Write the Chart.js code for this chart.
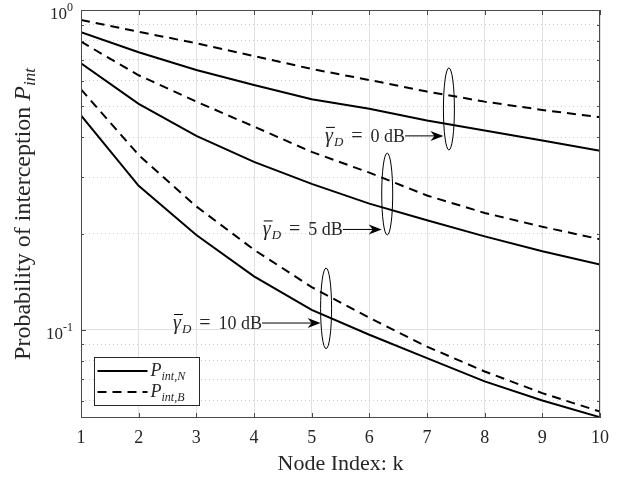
<!DOCTYPE html>
<html>
<head>
<meta charset="utf-8">
<script src="https://cdn.jsdelivr.net/npm/chart.js@4.4.1/dist/chart.umd.min.js"></script>
<style>
  html, body { margin: 0; padding: 0; background: #fff; }
  #wrap { width: 628px; height: 483px; }
</style>
</head>
<body>
<div id="wrap"><canvas id="chart"></canvas></div>
<script>
// node index k on the x axis
const nodeIndex = [1, 2, 3, 4, 5, 6, 7, 8, 9, 10];

// probability of interception
const pN_0dB  = [0.852, 0.738, 0.649, 0.583, 0.526, 0.491, 0.451, 0.420, 0.391, 0.363];
const pB_0dB  = [0.931, 0.855, 0.787, 0.718, 0.654, 0.604, 0.556, 0.517, 0.487, 0.462];
const pN_5dB  = [0.681, 0.509, 0.404, 0.335, 0.286, 0.248, 0.220, 0.196, 0.176, 0.160];
const pB_5dB  = [0.796, 0.625, 0.517, 0.432, 0.360, 0.310, 0.263, 0.232, 0.210, 0.192];
const pN_10dB = [0.468, 0.282, 0.198, 0.147, 0.1155, 0.0965, 0.0816, 0.069, 0.0601, 0.0533];
const pB_10dB = [0.565, 0.352, 0.243, 0.178, 0.136, 0.109, 0.0886, 0.0741, 0.0634, 0.0555];

const yMajorTicks = [0.1, 1];
const yMinorTicks = [0.06, 0.07, 0.08, 0.09, 0.2, 0.3, 0.4, 0.5, 0.6, 0.7, 0.8, 0.9];
const yMajorLabels = [['10', '-1'], ['10', '0']];
const snrLevels = ['0', '5', '10'];

const SERIF = "'Liberation Serif', 'Times New Roman', serif";
const INK = '#262626';

// ellipse + arrow callouts (data coords)
const callouts = [
  { x: 7.38, yTop: 0.659, yBot: 0.365, arrowY: 0.404, textEnd: 6.62 },
  { x: 6.31, yTop: 0.357, yBot: 0.198, arrowY: 0.206, textEnd: 5.54 },
  { x: 5.25, yTop: 0.156, yBot: 0.0873, arrowY: 0.105, textEnd: 4.14 }
];

function pts(arr) {
  return nodeIndex.map((k, i) => ({ x: k, y: arr[i] }));
}

function line(label, arr, dashed) {
  return {
    label: label,
    data: pts(arr),
    borderColor: '#000',
    borderWidth: 2,
    borderDash: dashed ? [9, 6] : [],
    pointRadius: 0,
    fill: false,
    tension: 0
  };
}

function drawRuns(ctx, runs, x, y, align) {
  const widths = runs.map(r => {
    if (r.gap) return r.gap;
    ctx.font = r.font;
    return ctx.measureText(r.t).width;
  });
  const total = widths.reduce((a, b) => a + b, 0);
  let cx = align === 'right' ? x - total : align === 'center' ? x - total / 2 : x;
  const starts = [];
  runs.forEach((r, i) => {
    starts.push(cx);
    if (!r.gap) {
      ctx.font = r.font;
      ctx.fillText(r.t, cx, y + (r.dy || 0));
    }
    cx += widths[i];
  });
  return { starts, widths, total };
}

const decorPlugin = {
  id: 'decor',
  afterDraw(chart) {
    const { ctx, chartArea: a, scales } = chart;
    const xs = scales.x, ys = scales.y;
    ctx.save();
    ctx.textAlign = 'left';
    ctx.textBaseline = 'alphabetic';

    // axes box
    ctx.strokeStyle = '#4a4a4a';
    ctx.lineWidth = 1;
    ctx.strokeRect(Math.round(a.left) + 0.5, Math.round(a.top) + 0.5,
      Math.round(a.right - a.left) - 1, Math.round(a.bottom - a.top) - 1);

    // inward ticks
    ctx.beginPath();
    nodeIndex.forEach(k => {
      const px = Math.round(xs.getPixelForValue(k)) + 0.5;
      ctx.moveTo(px, a.bottom); ctx.lineTo(px, a.bottom - 5);
      ctx.moveTo(px, a.top); ctx.lineTo(px, a.top + 5);
    });
    yMajorTicks.concat(yMinorTicks).forEach(v => {
      const len = yMajorTicks.includes(v) ? 5 : 3;
      const py = Math.round(ys.getPixelForValue(v)) + 0.5;
      ctx.moveTo(a.left, py); ctx.lineTo(a.left + len, py);
      ctx.moveTo(a.right, py); ctx.lineTo(a.right - len, py);
    });
    ctx.stroke();

    // y tick labels 10^n
    ctx.fillStyle = INK;
    yMajorTicks.forEach((v, i) => {
      const py = ys.getPixelForValue(v);
      const [base, exp] = yMajorLabels[i];
      drawRuns(ctx, [
        { t: base, font: '17px ' + SERIF },
        { t: exp, font: '12px ' + SERIF, dy: -8 }
      ], a.left - 8, py + 9, 'right');
    });

    // y axis title
    ctx.save();
    ctx.translate(23, (a.top + a.bottom) / 2);
    ctx.rotate(-Math.PI / 2);
    drawRuns(ctx, [
      { t: 'Probability of interception ', font: '24px ' + SERIF },
      { t: 'P', font: 'italic 24px ' + SERIF },
      { t: 'int', font: 'italic 17px ' + SERIF, dy: 5 }
    ], 0, 7, 'center');
    ctx.restore();

    // callouts
    ctx.strokeStyle = '#000';
    callouts.forEach((c, i) => {
      const cx = xs.getPixelForValue(c.x);
      const t = ys.getPixelForValue(c.yTop);
      const b = ys.getPixelForValue(c.yBot);
      const rx = 5.5;
      ctx.lineWidth = 1;
      ctx.beginPath();
      ctx.ellipse(cx, (t + b) / 2, rx, (b - t) / 2, 0, 0, Math.PI * 2);
      ctx.stroke();

      const ay = ys.getPixelForValue(c.arrowY);
      const x0 = xs.getPixelForValue(c.textEnd);
      const tip = cx - rx;
      ctx.beginPath();
      ctx.moveTo(x0, ay); ctx.lineTo(tip - 8, ay);
      ctx.stroke();
      ctx.fillStyle = '#000';
      ctx.beginPath();
      ctx.moveTo(tip, ay);
      ctx.lineTo(tip - 13, ay - 5);
      ctx.lineTo(tip - 9, ay);
      ctx.lineTo(tip - 13, ay + 5);
      ctx.closePath();
      ctx.fill();

      ctx.fillStyle = INK;
      const r = drawRuns(ctx, [
        { t: '\u03B3', font: 'italic 20px ' + SERIF },
        { gap: 1 },
        { t: 'D', font: 'italic 13px ' + SERIF, dy: 4 },
        { gap: 8 },
        { t: '=', font: '20px ' + SERIF },
        { gap: 8 },
        { t: snrLevels[i] + ' dB', font: '18px ' + SERIF }
      ], x0, ay + 6, 'right');
      ctx.beginPath();
      ctx.moveTo(r.starts[0] + 1, ay - 8.5);
      ctx.lineTo(r.starts[0] + r.widths[0] + 2, ay - 8.5);
      ctx.stroke();
    });

    // legend
    const lx = 94.5, ly = 357.5, lw = 105, lh = 48;
    ctx.fillStyle = '#fff';
    ctx.fillRect(lx, ly, lw, lh);
    ctx.strokeStyle = '#262626';
    ctx.lineWidth = 1;
    ctx.strokeRect(lx, ly, lw, lh);
    const entries = [
      { sub: 'int,N', dash: [] },
      { sub: 'int,B', dash: [9, 6] }
    ];
    entries.forEach((e, i) => {
      const y = ly + 13.5 + i * 21;
      ctx.strokeStyle = '#000';
      ctx.lineWidth = 2;
      ctx.setLineDash(e.dash);
      ctx.beginPath();
      ctx.moveTo(lx + 3, y); ctx.lineTo(lx + 53, y);
      ctx.stroke();
      ctx.setLineDash([]);
      ctx.fillStyle = INK;
      drawRuns(ctx, [
        { t: 'P', font: 'italic 18px ' + SERIF },
        { t: e.sub, font: 'italic 12px ' + SERIF, dy: 4 }
      ], lx + 56, y + 5, 'left');
    });

    ctx.restore();
  }
};

new Chart(document.getElementById('chart'), {
  type: 'line',
  data: {
    datasets: [
      line('Pint,N 0 dB', pN_0dB, false),
      line('Pint,B 0 dB', pB_0dB, true),
      line('Pint,N 5 dB', pN_5dB, false),
      line('Pint,B 5 dB', pB_5dB, true),
      line('Pint,N 10 dB', pN_10dB, false),
      line('Pint,B 10 dB', pB_10dB, true)
    ]
  },
  options: {
    responsive: true,
    maintainAspectRatio: false,
    animation: false,
    layout: { padding: { left: 0, right: 28, top: 10, bottom: 0 } },
    plugins: {
      legend: { display: false },
      tooltip: { enabled: false }
    },
    scales: {
      x: {
        type: 'linear',
        min: 1,
        max: 10,
        afterBuildTicks: s => { s.ticks = nodeIndex.map(v => ({ value: v })); },
        afterFit: s => { s.height = 65; },
        grid: { color: '#e2e2e2', drawTicks: false },
        border: { display: false },
        ticks: {
          padding: 9,
          color: INK,
          font: { family: SERIF, size: 18 },
          maxRotation: 0
        },
        title: {
          display: true,
          text: 'Node Index: k',
          color: INK,
          font: { family: SERIF, size: 22 },
          padding: { top: 0, bottom: 6 }
        }
      },
      y: {
        type: 'logarithmic',
        min: 0.053,
        max: 1,
        afterBuildTicks: s => {
          s.ticks = yMinorTicks.concat(yMajorTicks).sort((p, q) => p - q).map(v => ({ value: v }));
        },
        afterFit: s => { s.width = 81; },
        grid: {
          drawTicks: false,
          color: c => (c.tick && yMajorTicks.includes(c.tick.value)) ? '#e2e2e2' : '#cfcfcf'
        },
        border: {
          display: false,
          dash: c => (c.tick && yMajorTicks.includes(c.tick.value)) ? [] : [1, 3]
        },
        ticks: { display: false }
      }
    }
  },
  plugins: [decorPlugin]
});
</script>
</body>
</html>
